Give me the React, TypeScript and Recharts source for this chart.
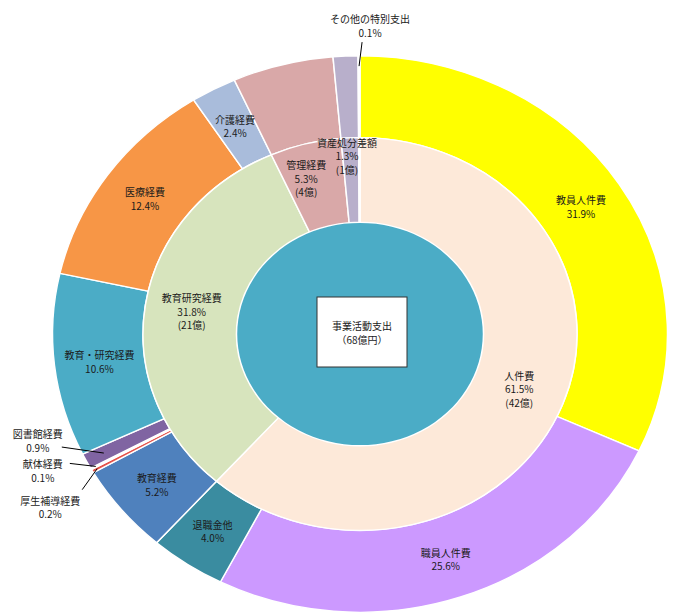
import { Cell, Pie, PieChart } from "recharts";

// outer ring: breakdown (share of total, %)
const outerNames = [
  "教員人件費",
  "職員人件費",
  "退職金他",
  "教育経費",
  "厚生補導経費",
  "献体経費",
  "図書館経費",
  "教育・研究経費",
  "医療経費",
  "介護経費",
  "管理経費",
  "資産処分差額",
  "その他の特別支出",
];
const outerShares = [31.9, 25.6, 4.0, 5.2, 0.2, 0.1, 0.9, 10.6, 12.4, 2.4, 5.3, 1.3, 0.1];

// inner ring: categories (share %, amount in 億円)
const innerNames = ["人件費", "教育研究経費", "管理経費", "資産処分差額", "その他の特別支出"];
const innerShares = [61.5, 31.8, 5.3, 1.3, 0.1];
const innerOku = [42, 21, 4, 1, 0];

const centerTitle = "事業活動支出";
const totalOku = 68;

const outerColors = [
  "#FFFF00", "#CC99FF", "#3A8CA0", "#4F81BD", "#E5534B", "#FFFFFF", "#8064A2",
  "#4BACC6", "#F79646", "#A9BCDB", "#D9A8A8", "#B8AFCB", "#FFFFFF",
];
const innerColors = ["#FDE9D9", "#D7E4BD", "#D9A8A8", "#B8AFCB", "#FFFFFF"];

const outerData = outerNames.map((name, i) => ({ name, value: outerShares[i] }));
const innerData = innerNames.map((name, i) => ({ name, value: innerShares[i], oku: innerOku[i] }));
const centerData = [{ name: centerTitle, value: totalOku }];

// layout
const W = 675;
const H = 613;
const CX = 360;
const CY = 334;
const SY = 0.905; // the chart is drawn squashed vertically
const R0 = 123.5;
const R1 = 217;
const R2 = 307.5;
const FONT = "'Noto Sans CJK JP', 'Noto Sans', sans-serif";
const LH = 13.5;

const outerHidden = ["管理経費", "資産処分差額"];
const innerHidden = ["その他の特別支出"];
// small slices labelled outside with a leader line
const callouts: Record<string, { r: number; text: [number, number]; line: [number, number] }> = {
  図書館経費: { r: 288, text: [-66, -20], line: [-42, -6] },
  献体経費: { r: 302, text: [-53, -3], line: [-26, -3] },
  厚生補導経費: { r: 302, text: [-47, 31], line: [-15, 21] },
  その他の特別支出: { r: 296, text: [11, -48], line: [3, -24] },
};
const innerNudge: Record<string, [number, number]> = {
  管理経費: [-11, -7],
  資産処分差額: [-5, -25],
};

function Lines({ x, y, lines, firstAt = false }: { x: number; y: number; lines: string[]; firstAt?: boolean }) {
  const y0 = firstAt ? y : y - ((lines.length - 1) * LH) / 2;
  return (
    <text
      x={x}
      y={y0}
      textAnchor="middle"
      dominantBaseline="central"
      fontFamily={FONT}
      fontSize={10}
      fill="#1a1a1a"
    >
      {lines.map((l, i) => (
        <tspan key={i} x={x} y={y0 + i * LH} dominantBaseline="central">
          {l}
        </tspan>
      ))}
    </text>
  );
}

function pt(cx: number, cy: number, r: number, angle: number) {
  const rad = (-angle * Math.PI) / 180;
  return { x: cx + r * Math.cos(rad), y: cy + r * Math.sin(rad) * SY };
}

function outerLabel(p: any) {
  const name = p.payload?.name ?? p.name;
  if (outerHidden.includes(name)) return null;
  const value = p.payload?.value ?? p.value;
  const lines = [name, `${value.toFixed(1)}%`];
  const c = callouts[name];
  if (c) {
    const a = pt(p.cx, p.cy, c.r, p.midAngle);
    return (
      <g key={name}>
        <line x1={a.x} y1={a.y} x2={a.x + c.line[0]} y2={a.y + c.line[1]} stroke="#000" strokeWidth={1} />
        <Lines x={a.x + c.text[0]} y={a.y + c.text[1]} lines={lines} firstAt />
      </g>
    );
  }
  const m = pt(p.cx, p.cy, (p.innerRadius + p.outerRadius) / 2, p.midAngle);
  return <Lines key={name} x={m.x} y={m.y} lines={lines} />;
}

function innerLabel(p: any) {
  const name = p.payload?.name ?? p.name;
  if (innerHidden.includes(name)) return null;
  const value = p.payload?.value ?? p.value;
  const oku = p.payload?.oku;
  const m = pt(p.cx, p.cy, (p.innerRadius + p.outerRadius) / 2, p.midAngle);
  const n = innerNudge[name] ?? [0, 0];
  return <Lines key={name} x={m.x + n[0]} y={m.y + n[1]} lines={[name, `${value.toFixed(1)}%`, `(${oku}億)`]} />;
}

function centerLabel(p: any) {
  return (
    <g key="center">
      <rect x={p.cx - 43} y={p.cy - 37} width={90} height={70} fill="#fff" stroke="#333" strokeWidth={1} />
      <Lines x={p.cx + 2} y={p.cy - 2} lines={[centerTitle, `（${totalOku}億円）`]} />
    </g>
  );
}

export default function App() {
  return (
    <div style={{ position: "absolute", left: 0, top: 0, width: W, height: H, background: "#fff" }}>
      <style>{`
        .recharts-pie-sector {
          transform-box: view-box;
          transform-origin: ${CX}px ${CY}px;
          transform: scale(1, ${SY});
        }
      `}</style>
      <PieChart width={W} height={H} margin={{ top: 0, right: 0, bottom: 0, left: 0 }}>
        <Pie
          data={outerData}
          dataKey="value"
          nameKey="name"
          cx={CX}
          cy={CY}
          innerRadius={R1}
          outerRadius={R2}
          startAngle={90}
          endAngle={-270}
          stroke="#fff"
          strokeWidth={1.5}
          label={outerLabel}
          labelLine={false}
          isAnimationActive={false}
        >
          {outerData.map((d, i) => (
            <Cell key={d.name} fill={outerColors[i]} />
          ))}
        </Pie>
        <Pie
          data={innerData}
          dataKey="value"
          nameKey="name"
          cx={CX}
          cy={CY}
          innerRadius={R0}
          outerRadius={R1}
          startAngle={90}
          endAngle={-270}
          stroke="#fff"
          strokeWidth={1.5}
          label={innerLabel}
          labelLine={false}
          isAnimationActive={false}
        >
          {innerData.map((d, i) => (
            <Cell key={d.name} fill={innerColors[i]} />
          ))}
        </Pie>
        <Pie
          data={centerData}
          dataKey="value"
          nameKey="name"
          cx={CX}
          cy={CY}
          innerRadius={0}
          outerRadius={R0 - 0.75}
          startAngle={90}
          endAngle={-270}
          stroke="none"
          fill="#4BACC6"
          label={centerLabel}
          labelLine={false}
          isAnimationActive={false}
        />
      </PieChart>
    </div>
  );
}
